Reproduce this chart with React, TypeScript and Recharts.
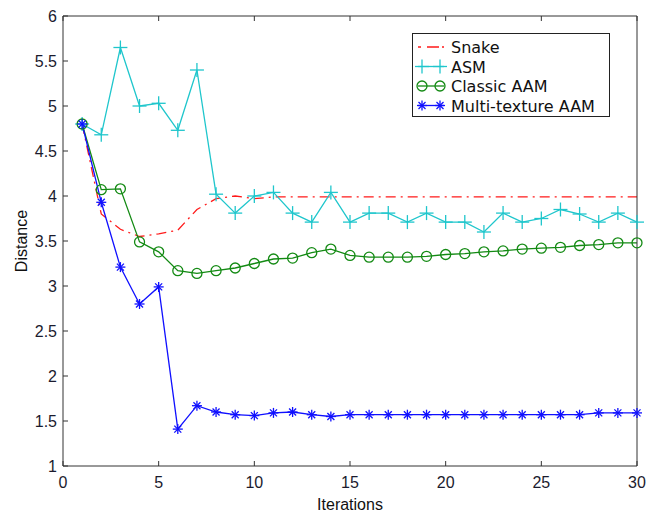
import React from 'react';
import { LineChart, Line, XAxis, YAxis } from 'recharts';

const iterations = [
  1, 2, 3, 4, 5, 6, 7, 8, 9, 10, 11, 12, 13, 14, 15,
  16, 17, 18, 19, 20, 21, 22, 23, 24, 25, 26, 27, 28, 29, 30,
];

const snake = [
  4.8, 3.8, 3.63, 3.55, 3.58, 3.62, 3.85, 3.97, 4.0, 3.97, 3.99, 3.99, 3.99, 3.99, 3.99,
  3.99, 3.99, 3.99, 3.99, 3.99, 3.99, 3.99, 3.99, 3.99, 3.99, 3.99, 3.99, 3.99, 3.99, 3.99,
];

const asm = [
  4.8, 4.68, 5.65, 5.0, 5.03, 4.73, 5.4, 4.02, 3.81, 4.0, 4.04, 3.81, 3.71, 4.04, 3.71,
  3.81, 3.81, 3.71, 3.81, 3.71, 3.71, 3.6, 3.81, 3.71, 3.75, 3.85, 3.8, 3.71, 3.81, 3.71,
];

const classicAam = [
  4.8, 4.07, 4.08, 3.49, 3.38, 3.17, 3.14, 3.17, 3.2, 3.25, 3.3, 3.31, 3.37, 3.41, 3.34,
  3.32, 3.32, 3.32, 3.33, 3.35, 3.36, 3.38, 3.39, 3.41, 3.42, 3.43, 3.45, 3.46, 3.48, 3.48,
];

const multiTexture = [
  4.8, 3.93, 3.21, 2.8, 2.99, 1.41, 1.67, 1.6, 1.57, 1.56, 1.59, 1.6, 1.57, 1.55, 1.57,
  1.57, 1.57, 1.57, 1.57, 1.57, 1.57, 1.57, 1.57, 1.57, 1.57, 1.57, 1.57, 1.59, 1.59, 1.59,
];

const xTicks = [0, 5, 10, 15, 20, 25, 30];
const yTicks = [1, 1.5, 2, 2.5, 3, 3.5, 4, 4.5, 5, 5.5, 6];

const data = iterations.map((it, i) => ({
  it,
  snake: snake[i],
  asm: asm[i],
  classic: classicAam[i],
  multi: multiTexture[i],
}));

const RED = '#ff1a1a';
const CYAN = '#1fc6cc';
const GREEN = '#138a13';
const BLUE = '#1010ff';
const AXIS = '#333';
const FONT = '"Liberation Sans", Arial, sans-serif';

const PlusMark = ({ cx, cy, color }: any) => (
  <g stroke={color} strokeWidth={1.3}>
    <line x1={cx - 7} y1={cy} x2={cx + 7} y2={cy} />
    <line x1={cx} y1={cy - 7} x2={cx} y2={cy + 7} />
  </g>
);

const CircleMark = ({ cx, cy, color }: any) => (
  <circle cx={cx} cy={cy} r={5} fill="none" stroke={color} strokeWidth={1.3} />
);

const StarMark = ({ cx, cy, color }: any) => (
  <g stroke={color} strokeWidth={1.3}>
    <line x1={cx - 5} y1={cy} x2={cx + 5} y2={cy} />
    <line x1={cx} y1={cy - 5} x2={cx} y2={cy + 5} />
    <line x1={cx - 3.5} y1={cy - 3.5} x2={cx + 3.5} y2={cy + 3.5} />
    <line x1={cx - 3.5} y1={cy + 3.5} x2={cx + 3.5} y2={cy - 3.5} />
  </g>
);

const plusDot = (p: any) => <PlusMark key={p.index} cx={p.cx} cy={p.cy} color={CYAN} />;
const circleDot = (p: any) => <CircleMark key={p.index} cx={p.cx} cy={p.cy} color={GREEN} />;
const starDot = (p: any) => <StarMark key={p.index} cx={p.cx} cy={p.cy} color={BLUE} />;

// MATLAB style: ticks point into the plot box
const BottomTick = ({ x, y, payload }: any) => (
  <g>
    <line x1={x} y1={y} x2={x} y2={y - 5} stroke={AXIS} />
    <text x={x} y={y + 22} textAnchor="middle" fontSize={16} fontFamily={FONT} fill="#1b1b2e">
      {payload.value}
    </text>
  </g>
);

const TopTick = ({ x, y }: any) => (
  <line x1={x} y1={y} x2={x} y2={y + 5} stroke={AXIS} />
);

const LeftTick = ({ x, y, payload }: any) => (
  <g>
    <line x1={x} y1={y} x2={x + 5} y2={y} stroke={AXIS} />
    <text x={x - 6} y={y + 6} textAnchor="end" fontSize={16} fontFamily={FONT} fill="#1b1b2e">
      {payload.value}
    </text>
  </g>
);

const RightTick = ({ x, y }: any) => (
  <line x1={x} y1={y} x2={x - 5} y2={y} stroke={AXIS} />
);

const legendItems = [
  { name: 'Snake', color: RED, dash: '3 6 12', mark: null },
  { name: 'ASM', color: CYAN, dash: undefined, mark: PlusMark },
  { name: 'Classic AAM', color: GREEN, dash: undefined, mark: CircleMark },
  { name: 'Multi-texture AAM', color: BLUE, dash: undefined, mark: StarMark },
];

const LegendBox = () => (
  <svg width={198} height={84} style={{ display: 'block' }}>
    <rect x={0.5} y={0.5} width={197} height={83} fill="#fff" stroke="#222" />
    {legendItems.map((item, i) => {
      const y = 14 + i * 19.5;
      const M = item.mark as any;
      return (
        <g key={item.name}>
          <line x1={6} y1={y} x2={32} y2={y} stroke={item.color} strokeWidth={1.3} strokeDasharray={item.dash} />
          {M && <M cx={10} cy={y} color={item.color} />}
          {M && <M cx={28} cy={y} color={item.color} />}
          <text x={39} y={y + 6} fontSize={16} fontFamily='"DejaVu Sans", Verdana, sans-serif' fill="#111">
            {item.name}
          </text>
        </g>
      );
    })}
  </svg>
);

export default function App() {
  return (
    <div style={{ position: 'absolute', left: 0, top: 0, width: 646, height: 513, background: '#fff' }}>
      <LineChart
        width={646}
        height={513}
        data={data}
        margin={{ top: 15, right: 8, left: 13, bottom: 0 }}
      >
        <XAxis
          dataKey="it"
          type="number"
          domain={[0, 30]}
          ticks={xTicks}
          height={47}
          stroke={AXIS}
          tickSize={0}
          tickMargin={0}
          tick={<BottomTick />}
          label={{ value: 'Iterations', position: 'insideBottom', offset: 3, fontSize: 16, fontFamily: FONT, fill: '#111' }}
        />
        <XAxis
          xAxisId="top"
          orientation="top"
          dataKey="it"
          type="number"
          domain={[0, 30]}
          ticks={xTicks}
          height={1}
          stroke={AXIS}
          tickSize={0}
          tickMargin={0}
          tick={<TopTick />}
        />
        <YAxis
          type="number"
          domain={[1, 6]}
          ticks={yTicks}
          width={50}
          stroke={AXIS}
          tickSize={0}
          tickMargin={0}
          tick={<LeftTick />}
          label={{ value: 'Distance', angle: -90, position: 'insideLeft', offset: 8, fontSize: 16, fontFamily: FONT, fill: '#111', style: { textAnchor: 'middle' } }}
        />
        <YAxis
          yAxisId="right"
          orientation="right"
          type="number"
          domain={[1, 6]}
          ticks={yTicks}
          width={1}
          stroke={AXIS}
          tickSize={0}
          tickMargin={0}
          tick={<RightTick />}
        />
        <Line
          dataKey="snake"
          name="Snake"
          stroke={RED}
          strokeWidth={1.3}
          strokeDasharray="10 5 2 5"
          dot={false}
          isAnimationActive={false}
        />
        <Line
          dataKey="asm"
          name="ASM"
          stroke={CYAN}
          strokeWidth={1.3}
          dot={plusDot}
          isAnimationActive={false}
        />
        <Line
          dataKey="classic"
          name="Classic AAM"
          stroke={GREEN}
          strokeWidth={1.3}
          dot={circleDot}
          isAnimationActive={false}
        />
        <Line
          dataKey="multi"
          name="Multi-texture AAM"
          stroke={BLUE}
          strokeWidth={1.3}
          dot={starDot}
          isAnimationActive={false}
        />
      </LineChart>
      <div style={{ position: 'absolute', left: 412, top: 33 }}>
        <LegendBox />
      </div>
    </div>
  );
}
